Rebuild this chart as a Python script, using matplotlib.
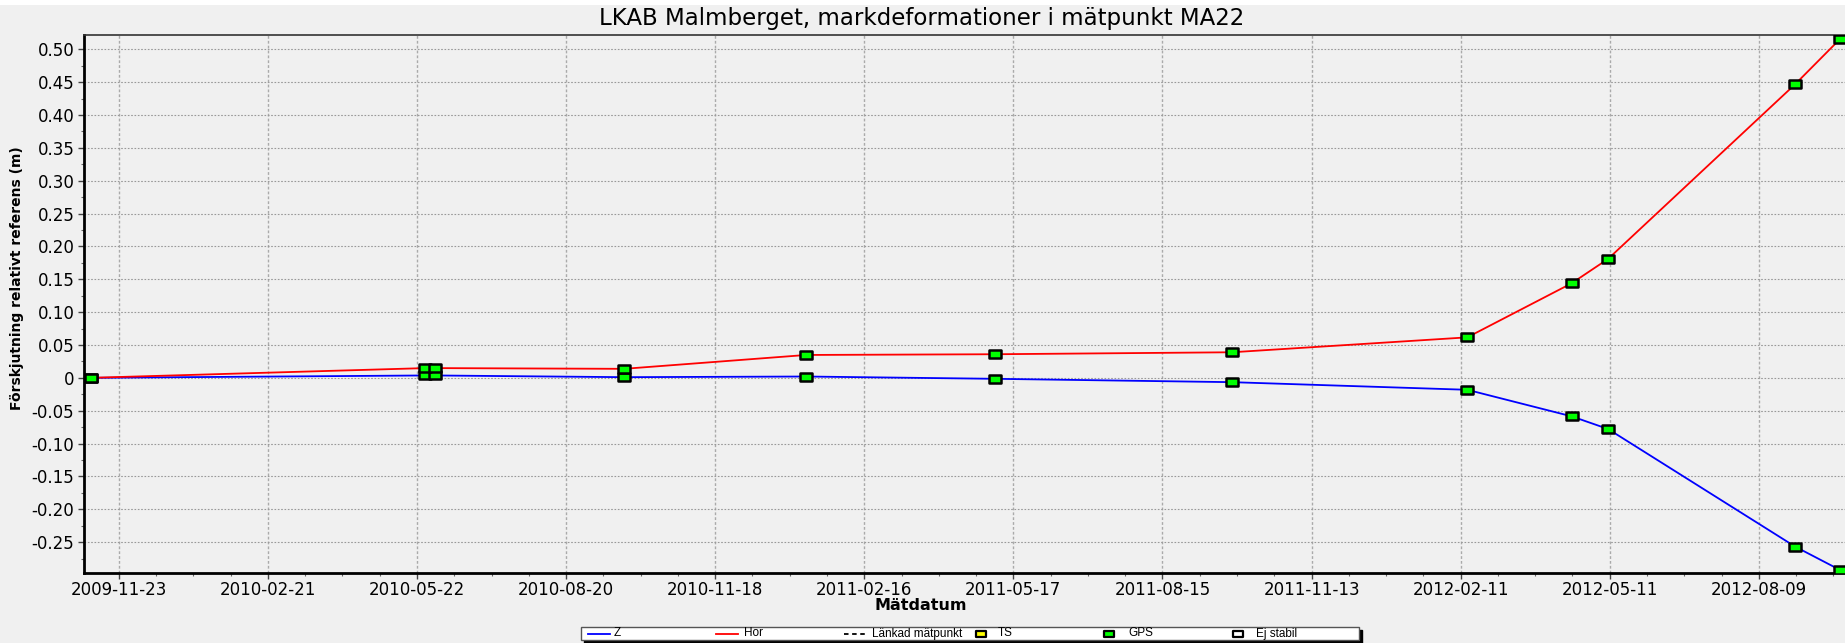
import numpy as np
import pandas as pd
import matplotlib
matplotlib.use('Agg')
import matplotlib.pyplot as plt
import matplotlib.dates as mdates
from matplotlib.lines import Line2D
from matplotlib.patches import Rectangle
from matplotlib.path import Path
from matplotlib.ticker import FixedLocator, AutoMinorLocator

# data
dates = ['2009-11-06', '2010-05-27', '2010-06-02', '2010-09-24', '2011-01-12', '2011-05-06',
         '2011-09-26', '2012-02-15', '2012-04-18', '2012-05-10', '2012-08-31', '2012-09-27']
hor = [0.0, 0.0148, 0.0148, 0.0137, 0.0348, 0.0359, 0.0389, 0.0616, 0.1439, 0.181, 0.447, 0.5156]
z = [0.0, 0.0036, 0.0036, 0.001, 0.002, -0.0015, -0.0066, -0.0182, -0.0586, -0.0779, -0.257, -0.2924]

x_ticks = ['2009-11-23', '2010-02-21', '2010-05-22', '2010-08-20', '2010-11-18', '2011-02-16',
           '2011-05-17', '2011-08-15', '2011-11-13', '2012-02-11', '2012-05-11', '2012-08-09']
y_ticks = [-0.25, -0.20, -0.15, -0.10, -0.05, 0, 0.05, 0.10, 0.15, 0.20, 0.25, 0.30, 0.35, 0.40, 0.45, 0.50]

legend_labels = ['Z', 'Hor', 'Länkad mätpunkt', 'TS', 'GPS', 'Ej stabil']

W, H = 1845, 643
BG = '#f0f0f0'

plt.rcParams['font.family'] = ['DejaVu Sans']


def fx(px):
    return px / W


def fy(py):
    return 1 - py / H


fig = plt.figure(figsize=(W / 100, H / 100), dpi=100, facecolor=BG)
fig.add_artist(Rectangle((0, fy(5)), 1, 5 / H, transform=fig.transFigure,
                         facecolor='white', edgecolor='none'))

ax = fig.add_axes([fx(84), fy(573), 1 - fx(84), (573 - 35) / H])
ax.set_facecolor(BG)

xd = pd.to_datetime(dates)
# wide rectangular marker (the original is stretched sideways)
box = Path([(-1.5, -1), (1.5, -1), (1.5, 1), (-1.5, 1), (-1.5, -1)],
           [Path.MOVETO, Path.LINETO, Path.LINETO, Path.LINETO, Path.CLOSEPOLY])

ax.plot(xd, z, color='#0000ff', lw=1.3, zorder=3)
ax.plot(xd, hor, color='#ff0000', lw=1.3, zorder=3)
for ys in (z, hor):
    ax.plot(xd, ys, ls='none', marker=box, ms=9, mfc='#00ff00', mec='black', mew=1.8, zorder=4)

ax.set_xlim(pd.Timestamp('2009-11-02'), pd.Timestamp('2012-09-30'))
ax.set_ylim(-0.297, 0.5217)

xt = mdates.date2num(pd.to_datetime(x_ticks))
ax.xaxis.set_major_locator(FixedLocator(xt))
ax.xaxis.set_major_formatter(mdates.DateFormatter('%Y-%m-%d'))
ax.xaxis.set_minor_locator(FixedLocator(np.arange(xt[0] - 90, xt[-1] + 90, 22.5)))
ax.set_yticks(y_ticks)
ax.set_yticklabels(['0' if v == 0 else '%.2f' % v for v in y_ticks])
ax.yaxis.set_minor_locator(AutoMinorLocator(2))

ax.tick_params(axis='both', which='major', direction='out', length=4, width=1,
               labelsize=12, color='#444444')
ax.tick_params(axis='both', which='minor', direction='out', length=2.5, width=0.8, color='#666666')
ax.tick_params(axis='y', pad=3)
ax.tick_params(axis='x', pad=2)

ax.grid(True, which='major', axis='y', color='#999999', ls=(0, (1.5, 1.5)), lw=0.8)
ax.grid(True, which='major', axis='x', color='#aaaaaa', ls=(0, (2, 1.5)), lw=1.0)

ax.spines['right'].set_visible(False)
ax.spines['top'].set_color('#333333')
ax.spines['top'].set_linewidth(1.2)
ax.spines['left'].set_linewidth(2)
ax.spines['bottom'].set_linewidth(2)

fig.text(fx(922), fy(18), 'LKAB Malmberget, markdeformationer i mätpunkt MA22',
         ha='center', va='center', fontsize=16.5)
fig.text(fx(921), fy(606), 'Mätdatum', ha='center', va='center', fontsize=11.5, fontweight='bold')
fig.text(fx(17), fy(278), 'Förskjutning relativt referens (m)', rotation=90,
         ha='center', va='center', fontsize=10, fontweight='heavy')

# legend strip drawn by hand
lx0, lx1, ly0, ly1 = 581, 1359, 627, 640
fig.add_artist(Rectangle((fx(lx0 + 3), fy(ly1 + 3)), (lx1 - lx0) / W, (ly1 - ly0) / H,
                         transform=fig.transFigure, facecolor='black', edgecolor='black'))
fig.add_artist(Rectangle((fx(lx0), fy(ly1)), (lx1 - lx0) / W, (ly1 - ly0) / H,
                         transform=fig.transFigure, facecolor='white', edgecolor='#555555', lw=1))
yc = fy((ly0 + ly1) / 2)
handles = [
    dict(kind='line', color='#0000ff', ls='-', x=588, tx=614),
    dict(kind='line', color='#ff0000', ls='-', x=716, tx=744),
    dict(kind='line', color='black', ls=(0, (2.5, 2)), x=844, tx=872),
    dict(kind='box', color='#ffff00', x=981, tx=998),
    dict(kind='box', color='#00ff00', x=1109, tx=1128),
    dict(kind='box', color='white', x=1238, tx=1256),
]
for h, lab in zip(handles, legend_labels):
    if h['kind'] == 'line':
        fig.add_artist(Line2D([fx(h['x']), fx(h['x'] + 22)], [yc, yc], transform=fig.transFigure,
                              color=h['color'], ls=h['ls'], lw=1.3))
    else:
        fig.add_artist(Line2D([fx(h['x'])], [yc], transform=fig.transFigure, ls='none',
                              marker=box, ms=6.5, mfc=h['color'], mec='black', mew=1.6))
    fig.text(fx(h['tx']), yc, lab, ha='left', va='center', fontsize=8.5,
             family=['Liberation Sans'])

fig.savefig('out.png', dpi=100, facecolor=BG)
